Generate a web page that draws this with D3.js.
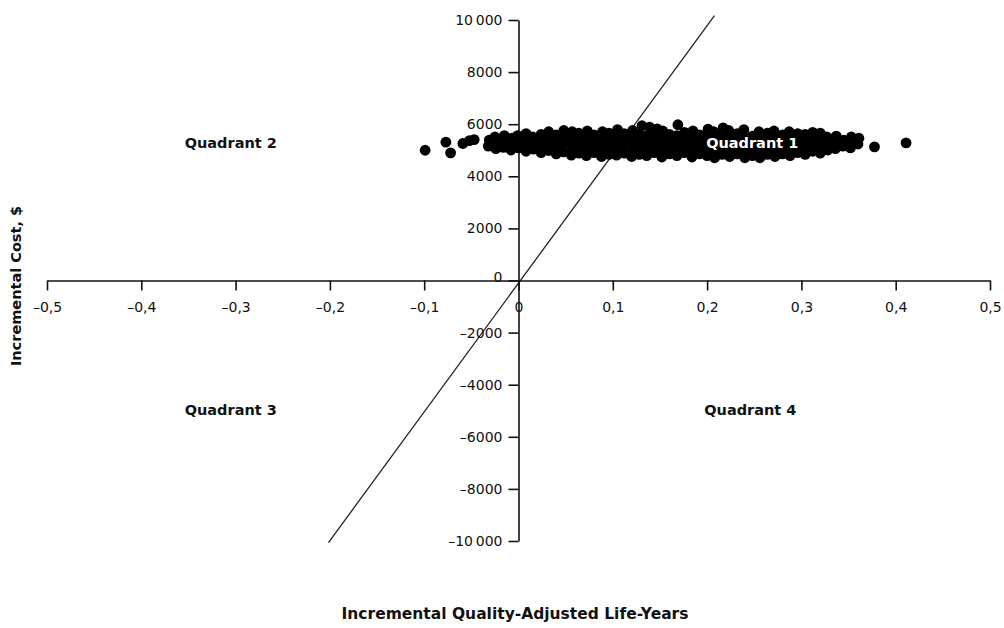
<!DOCTYPE html>
<html>
<head>
<meta charset="utf-8">
<script src="https://cdn.jsdelivr.net/npm/d3@7"></script>
<style>
  body { margin: 0; background: #fff; }
  svg { display: block; }
</style>
</head>
<body>
<svg id="chart" width="1004" height="628"></svg>
<script>
// bootstrap replicates: [incremental QALY, incremental cost]
const replicates = [
  [-0.099, 5000], [-0.077, 5310], [-0.072, 4900], [-0.059, 5260], [-0.052, 5370], [-0.047, 5410],
  [-0.032, 5160], [-0.031, 5390],
  [-0.024, 5060], [-0.023, 5290], [-0.025, 5510],
  [-0.016, 5110], [-0.017, 5340], [-0.015, 5560],
  [-0.008, 5010], [-0.009, 5240], [-0.007, 5460],
  [0.000, 5090], [0.001, 5310], [-0.001, 5560],
  [0.008, 4960], [0.007, 5190], [0.009, 5440], [0.008, 5640],
  [0.016, 5040], [0.017, 5290], [0.015, 5510],
  [0.024, 4910], [0.023, 5140], [0.025, 5390], [0.024, 5610],
  [0.032, 4990], [0.031, 5260], [0.033, 5490], [0.032, 5710],
  [0.040, 4860], [0.041, 5090], [0.039, 5360], [0.040, 5590],
  [0.048, 4940], [0.047, 5210], [0.049, 5440], [0.048, 5760],
  [0.056, 4810], [0.057, 5040], [0.055, 5310], [0.056, 5540], [0.057, 5710],
  [0.064, 4890], [0.063, 5160], [0.065, 5390], [0.064, 5660],
  [0.072, 4790], [0.073, 5010], [0.071, 5240], [0.072, 5510], [0.073, 5740],
  [0.080, 4910], [0.079, 5090], [0.081, 5360], [0.080, 5590],
  [0.088, 4760], [0.089, 4990], [0.087, 5260], [0.088, 5490], [0.089, 5710],
  [0.096, 4840], [0.095, 5110], [0.097, 5390], [0.096, 5660],
  [0.104, 4810], [0.105, 5040], [0.103, 5310], [0.104, 5540], [0.105, 5790],
  [0.112, 4890], [0.111, 5160], [0.113, 5410], [0.112, 5640],
  [0.120, 4760], [0.121, 4990], [0.119, 5260], [0.120, 5490], [0.121, 5760],
  [0.128, 4840], [0.127, 5110], [0.129, 5340], [0.128, 5610], [0.131, 5940],
  [0.136, 4790], [0.137, 5060], [0.135, 5290], [0.136, 5560], [0.139, 5890],
  [0.144, 4910], [0.143, 5140], [0.145, 5410], [0.144, 5640], [0.147, 5820],
  [0.152, 4740], [0.153, 5010], [0.151, 5240], [0.152, 5510], [0.153, 5740],
  [0.160, 4860], [0.159, 5090], [0.161, 5360], [0.160, 5610],
  [0.168, 4790], [0.169, 5060], [0.167, 5290], [0.168, 5560], [0.169, 5980],
  [0.176, 4910], [0.175, 5140], [0.177, 5410], [0.176, 5690],
  [0.184, 4740], [0.185, 5010], [0.183, 5240], [0.184, 5510], [0.185, 5740],
  [0.192, 4860], [0.191, 5090], [0.193, 5360], [0.192, 5590],
  [0.200, 4790], [0.201, 5060], [0.199, 5290], [0.200, 5560], [0.201, 5810],
  [0.208, 4710], [0.207, 4940], [0.209, 5210], [0.208, 5440], [0.207, 5710],
  [0.216, 4840], [0.217, 5110], [0.215, 5340], [0.216, 5610], [0.217, 5860],
  [0.224, 4760], [0.223, 4990], [0.225, 5260], [0.224, 5490], [0.223, 5760],
  [0.232, 4860], [0.233, 5090], [0.231, 5360], [0.232, 5640],
  [0.240, 4710], [0.239, 4960], [0.241, 5190], [0.240, 5460], [0.239, 5790],
  [0.248, 4790], [0.249, 5060], [0.247, 5310], [0.248, 5540],
  [0.256, 4710], [0.255, 4940], [0.257, 5210], [0.256, 5440], [0.255, 5710],
  [0.264, 4840], [0.265, 5110], [0.263, 5340], [0.264, 5660],
  [0.272, 4760], [0.271, 4990], [0.273, 5260], [0.272, 5490], [0.271, 5740],
  [0.280, 4860], [0.281, 5090], [0.279, 5360], [0.280, 5590],
  [0.288, 4790], [0.287, 5060], [0.289, 5290], [0.288, 5560], [0.287, 5710],
  [0.296, 4910], [0.297, 5140], [0.295, 5410], [0.296, 5640],
  [0.304, 4840], [0.303, 5110], [0.305, 5340], [0.304, 5610],
  [0.312, 4960], [0.313, 5190], [0.311, 5460], [0.312, 5690],
  [0.320, 4890], [0.319, 5160], [0.321, 5390], [0.320, 5660],
  [0.328, 5010], [0.329, 5240], [0.327, 5510],
  [0.336, 5060], [0.335, 5310], [0.337, 5540],
  [0.344, 5160], [0.345, 5390],
  [0.352, 5090], [0.351, 5340], [0.353, 5510],
  [0.360, 5240], [0.361, 5460],
  [0.3775, 5130], [0.411, 5285]
];

// willingness-to-pay line end points
const wtpLine = [[-0.2015, -10060], [0.2078, 10170]];

const xTicks = [-0.5, -0.4, -0.3, -0.2, -0.1, 0, 0.1, 0.2, 0.3, 0.4, 0.5];
const yTicks = [-10000, -8000, -6000, -4000, -2000, 0, 2000, 4000, 6000, 8000, 10000];

const quadrants = [
  { name: "Quadrant 1", x: 0.199, y: 5270, fill: "#fff" },
  { name: "Quadrant 2", x: -0.354, y: 5270, fill: "#111" },
  { name: "Quadrant 3", x: -0.354, y: -4950, fill: "#111" },
  { name: "Quadrant 4", x: 0.197, y: -4950, fill: "#111" }
];

const svg = d3.select("#chart");
const font = "'DejaVu Sans', sans-serif";

const x = d3.scaleLinear().domain([-0.5, 0.5]).range([47, 990]);
const y = d3.scaleLinear().domain([-10000, 10000]).range([541, 20]);

const fmtX = d => d === 0 ? "0" : (d < 0 ? "\u2013" : "") + d3.format(".1f")(Math.abs(d)).replace(".", ",");
const fmtY = d => {
  const a = Math.abs(d);
  const s = a === 10000 ? "10\u2009000" : String(a);
  return (d < 0 ? "\u2013" : "") + s;
};

// diagonal threshold line (drawn under the dots)
svg.append("line")
  .attr("x1", x(wtpLine[0][0])).attr("y1", y(wtpLine[0][1]))
  .attr("x2", x(wtpLine[1][0])).attr("y2", y(wtpLine[1][1]))
  .style("stroke", "#222")
  .style("stroke-width", 1.3);

const xAxis = svg.append("g")
  .attr("transform", `translate(0,${y(0)})`)
  .call(d3.axisBottom(x).tickValues(xTicks).tickFormat(fmtX).tickSize(10).tickSizeOuter(0).tickPadding(12));

const yAxis = svg.append("g")
  .attr("transform", `translate(${x(0)},0)`)
  .call(d3.axisLeft(y).tickValues(yTicks).tickFormat(fmtY).tickSize(10).tickSizeOuter(0).tickPadding(6));

[xAxis, yAxis].forEach(g => {
  g.selectAll("path, line").style("stroke", "#111").style("stroke-width", 1.6);
  g.selectAll("text").style("font-family", font).style("font-size", "14px").style("fill", "#111");
});

// the y-axis "0" sits a touch above the axis line
yAxis.selectAll(".tick text").filter(d => d === 0).attr("dy", "0.1em");

svg.append("g")
  .selectAll("circle")
  .data(replicates)
  .enter()
  .append("circle")
    .attr("cx", d => x(d[0]))
    .attr("cy", d => y(d[1]))
    .attr("r", 5.4)
    .style("fill", "#000");

svg.append("g")
  .selectAll("text")
  .data(quadrants)
  .enter()
  .append("text")
    .attr("x", d => x(d.x))
    .attr("y", d => y(d.y))
    .attr("dy", "0.35em")
    .style("font-family", font)
    .style("font-size", "14.5px")
    .style("font-weight", "bold")
    .style("fill", d => d.fill)
    .text(d => d.name);

svg.append("text")
  .attr("x", 515)
  .attr("y", 619)
  .attr("text-anchor", "middle")
  .style("font-family", font)
  .style("font-size", "15.5px")
  .style("font-weight", "bold")
  .style("fill", "#111")
  .text("Incremental Quality-Adjusted Life-Years");

svg.append("text")
  .attr("transform", "translate(21,286) rotate(-90)")
  .attr("text-anchor", "middle")
  .style("font-family", font)
  .style("font-size", "14.5px")
  .style("font-weight", "bold")
  .style("fill", "#111")
  .text("Incremental Cost, $");
</script>
</body>
</html>
